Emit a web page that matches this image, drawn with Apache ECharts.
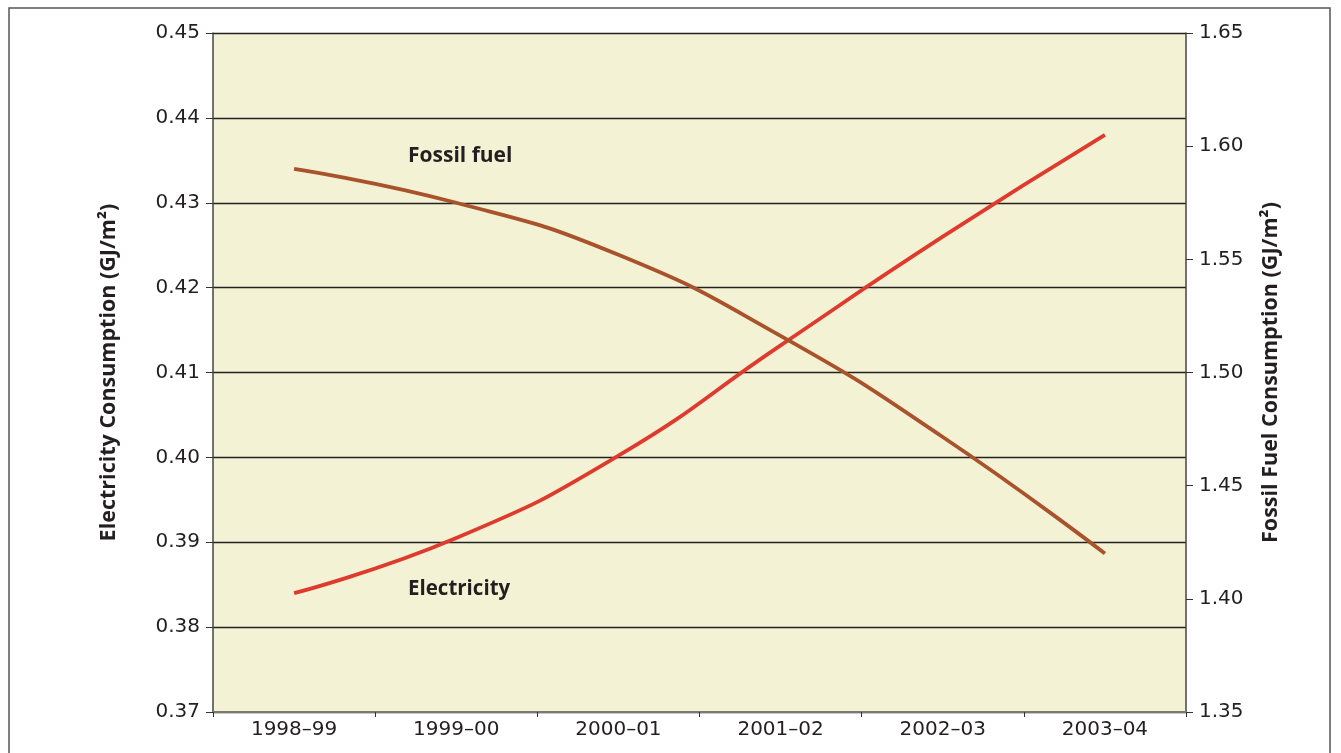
<!DOCTYPE html>
<html>
<head>
<meta charset="utf-8">
<script src="https://cdn.jsdelivr.net/npm/echarts@6/dist/echarts.min.js"></script>
<style>
  html, body { margin: 0; padding: 0; background: #ffffff; }
  #chart { width: 1341px; height: 753px; }
</style>
</head>
<body>
<div id="chart"></div>
<script>
// Financial years on the category axis
const years = ['1998–99', '1999–00', '2000–01', '2001–02', '2002–03', '2003–04'];
// Electricity consumption, GJ/m² (left axis)
const electricity = [0.384, 0.3905, 0.4002, 0.4132, 0.426, 0.438];
// Fossil fuel consumption, GJ/m² (right axis)
const fossilFuel = [1.59, 1.575, 1.552, 1.5162, 1.4715, 1.42];
// Left and right axis ranges
const leftAxis = { min: 0.37, max: 0.45, step: 0.01 };
const rightAxis = { min: 1.35, max: 1.65, step: 0.05 };

const textColor = '#231f20';
const tickFont = '"DejaVu Sans", sans-serif';
const boldFont = '"Open Sans", "Noto Sans", sans-serif';

const chart = echarts.init(document.getElementById('chart'));
chart.setOption({
  animation: false,
  backgroundColor: '#ffffff',
  grid: {
    left: 213, right: 155, top: 33, bottom: 41,
    show: true, backgroundColor: '#f4f2d4', borderWidth: 0
  },
  graphic: [
    {
      type: 'rect', silent: true, z: 0,
      shape: { x: 9, y: 8, width: 1321, height: 760 },
      style: { fill: 'none', stroke: '#555555', lineWidth: 1.5 }
    },
    {
      type: 'text', left: 408, top: 146, z: 10,
      style: { text: 'Fossil fuel', fill: textColor, font: 'bold 21px ' + boldFont }
    },
    {
      type: 'text', left: 408, top: 579, z: 10,
      style: { text: 'Electricity', fill: textColor, font: 'bold 20.5px ' + boldFont }
    }
  ],
  xAxis: {
    type: 'category',
    data: years,
    boundaryGap: true,
    axisLine: { show: true, lineStyle: { color: '#7a7a72', width: 2 } },
    axisTick: { show: true, alignWithLabel: false, length: 5, lineStyle: { color: '#333', width: 1 } },
    axisLabel: { color: textColor, fontSize: 20, fontFamily: tickFont, margin: 8 },
    splitLine: { show: false }
  },
  yAxis: [
    {
      type: 'value',
      min: leftAxis.min, max: leftAxis.max, interval: leftAxis.step,
      position: 'left',
      name: 'Electricity Consumption (GJ/m²)',
      nameLocation: 'middle', nameGap: 93, nameRotate: 90,
      nameTextStyle: { color: textColor, fontSize: 21.5, fontWeight: 'bold', fontFamily: boldFont },
      axisLine: { show: true, lineStyle: { color: '#444', width: 1.5 } },
      axisTick: { show: true, inside: false, length: 7, lineStyle: { color: '#333' } },
      axisLabel: { color: textColor, fontSize: 20, fontFamily: tickFont, margin: 13,
        formatter: v => v.toFixed(2) },
      splitLine: { show: true, lineStyle: { color: '#222', width: 1.3 } }
    },
    {
      type: 'value',
      min: rightAxis.min, max: rightAxis.max, interval: rightAxis.step,
      position: 'right',
      name: 'Fossil Fuel Consumption (GJ/m²)',
      nameLocation: 'middle', nameGap: 74, nameRotate: 90,
      nameTextStyle: { color: textColor, fontSize: 21.5, fontWeight: 'bold', fontFamily: boldFont },
      axisLine: { show: true, lineStyle: { color: '#444', width: 1.5 } },
      axisTick: { show: true, length: 7, lineStyle: { color: '#333' } },
      axisLabel: { color: textColor, fontSize: 20, fontFamily: tickFont, margin: 13,
        formatter: v => v.toFixed(2) },
      splitLine: { show: false }
    }
  ],
  series: [
    {
      name: 'Electricity', type: 'line', yAxisIndex: 0,
      data: electricity, smooth: 0.5,
      symbol: 'none', z: 5,
      lineStyle: { color: '#df3a2e', width: 3.8 }
    },
    {
      name: 'Fossil fuel', type: 'line', yAxisIndex: 1,
      data: fossilFuel, smooth: 0.5,
      symbol: 'none', z: 5,
      lineStyle: { color: '#a8532b', width: 3.8 }
    }
  ]
});
</script>
</body>
</html>
